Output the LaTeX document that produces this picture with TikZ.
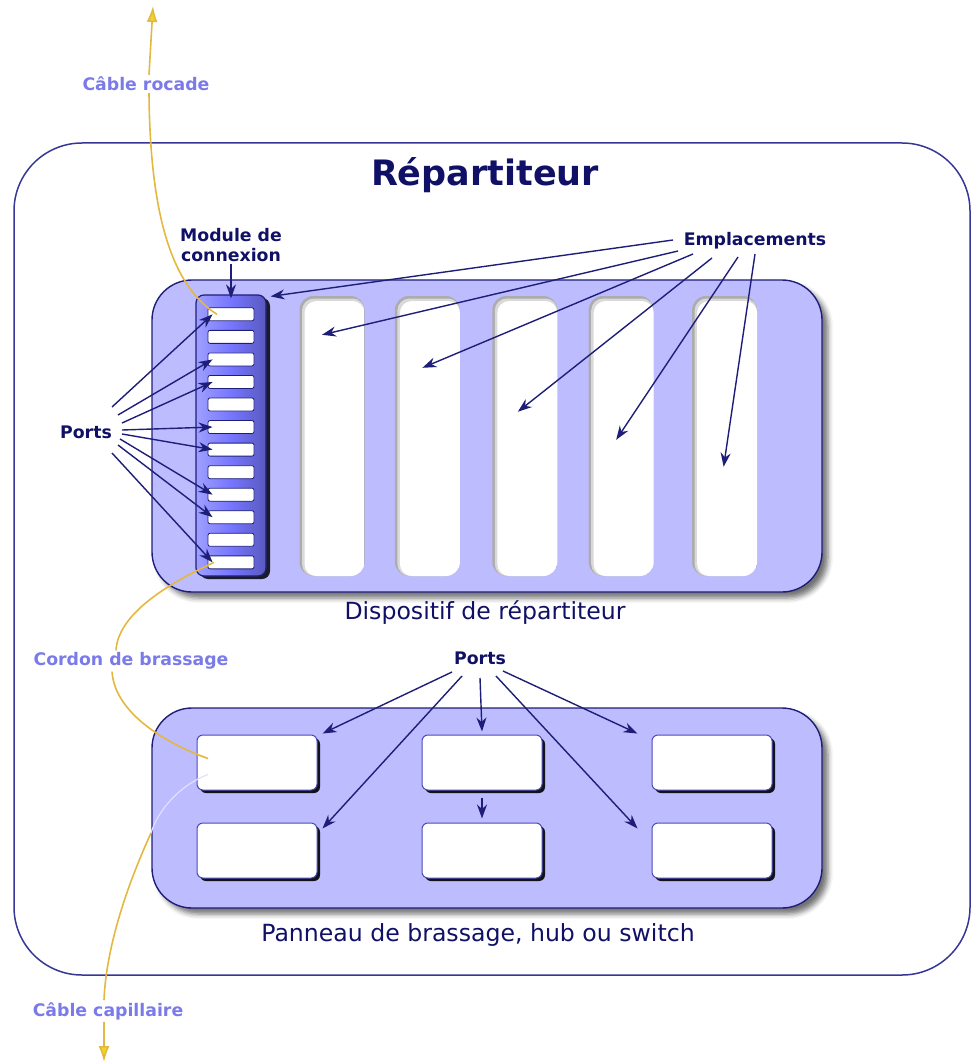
\documentclass[tikz,border=0pt]{standalone}
\usepackage{fontspec}
\setmainfont{DejaVu Sans}
\usepackage{xcolor}
\definecolor{rtext}{RGB}{16, 16, 102}
\definecolor{rline}{RGB}{30, 30, 120}
\definecolor{rframe}{RGB}{54, 54, 150}
\definecolor{rlav}{RGB}{188, 188, 255}
\definecolor{rblue}{RGB}{118, 118, 255}
\definecolor{rcable}{RGB}{228, 184, 64}
\definecolor{rlabel}{RGB}{122, 122, 232}
\usepackage{tikz}
\usetikzlibrary{
  arrows.meta, positioning, calc,
  shadows, shadows.blur
}
\newcommand{\lblfont}{\fontsize{17.3}{20.5}\selectfont\bfseries}
\newcommand{\capfont}{\fontsize{23.6}{27}\selectfont}
\newcommand{\ttlfont}{\fontsize{35}{41}\selectfont\bfseries}
\tikzset{
  outerbox/.style={draw=rframe, line width=1.5pt, rounded corners=68pt,
    minimum width=956pt, minimum height=832pt},
  devbox/.style={draw=rline, fill=rlav, line width=1.4pt, rounded corners=40pt,
    blur shadow={shadow xshift=6pt, shadow yshift=-6pt,
      shadow blur radius=5pt, shadow opacity=55}},
  slotcell/.style={fill=gray!65, rounded corners=14pt, inner sep=0pt,
    minimum width=65pt, minimum height=280pt,
    path picture={
      \fill[gray!30, rounded corners=12pt]
        ([shift={(2.5pt,-2.5pt)}]path picture bounding box.north west)
        rectangle (path picture bounding box.south east);
      \fill[white, rounded corners=12pt]
        ([shift={(5pt,-5pt)}]path picture bounding box.north west)
        rectangle (path picture bounding box.south east);}},
  modbar/.style={draw=rline, line width=1.2pt, rounded corners=8pt,
    left color=rblue!70!white, right color=rblue!75!black, middle color=rblue,
    minimum width=70pt, minimum height=281pt,
    drop shadow={shadow xshift=4pt, shadow yshift=-3pt, fill=black, opacity=0.85}},
  portcell/.style={draw=rline, fill=white, line width=0.8pt, rounded corners=2pt,
    minimum width=46pt, minimum height=13pt, inner sep=0pt},
  jackbox/.style={draw=rblue!50!rline, fill=white, line width=1pt, rounded corners=6pt,
    minimum width=120pt, minimum height=55pt,
    drop shadow={shadow xshift=3pt, shadow yshift=-3pt, fill=black, opacity=0.9}},
  ttl/.style={text=rtext, font=\ttlfont},
  lbl/.style={text=rtext, font=\lblfont, align=center, inner sep=2pt},
  cablbl/.style={text=rlabel, font=\lblfont, inner sep=2pt},
  captext/.style={text=rtext, font=\capfont},
  ptarrow/.style={-{Stealth[length=14pt,width=10pt]}, line width=1.4pt, draw=rline},
  cable/.style={draw=rcable, line width=1.6pt},
  cablearrow/.style={cable, -{Latex[length=16pt,width=11pt,fill=rcable!60!yellow]}},
  fadecable/.style={draw=white!55!rlav, line width=1.2pt}
}

\begin{document}
\begin{tikzpicture}[x=1pt, y=-1pt]
  \useasboundingbox (0,0) rectangle (971,1064);

  \node[outerbox] (frame) at (492,559) {};
  \node[ttl] (title) at (485,175) {Répartiteur};

  % Dispositif de repartiteur
  \node[devbox, minimum width=670pt, minimum height=312pt] (disp) at (487,436) {};
  \node[slotcell] (s1) at (332,436) {};
  \node[slotcell, right=30pt of s1] (s2) {};
  \node[slotcell, right=32pt of s2] (s3) {};
  \node[slotcell, right=31pt of s3] (s4) {};
  \node[slotcell, right=38pt of s4] (s5) {};

  \node[modbar] (mod) at (231,435.5) {};
  \node[portcell, below=13pt of mod.north] (p1) {};
  \node[portcell, below=8.75pt of p1] (p2) {};
  \node[portcell, below=8.75pt of p2] (p3) {};
  \node[portcell, below=8.75pt of p3] (p4) {};
  \node[portcell, below=8.75pt of p4] (p5) {};
  \node[portcell, below=8.75pt of p5] (p6) {};
  \node[portcell, below=8.75pt of p6] (p7) {};
  \node[portcell, below=8.75pt of p7] (p8) {};
  \node[portcell, below=8.75pt of p8] (p9) {};
  \node[portcell, below=8.75pt of p9] (p10) {};
  \node[portcell, below=8.75pt of p10] (p11) {};
  \node[portcell, below=8.75pt of p11] (p12) {};

  \node[captext] (capdisp) at (485,613) {Dispositif de répartiteur};

  % Panneau de brassage
  \node[devbox, minimum width=670pt, minimum height=200pt] (pan) at (487,808) {};
  \node[jackbox] (b1) at (257,762.5) {};
  \node[jackbox, right=104pt of b1] (b2) {};
  \node[jackbox, right=109pt of b2] (b3) {};
  \node[jackbox, below=32pt of b1] (b4) {};
  \node[jackbox, below=32pt of b2] (b5) {};
  \node[jackbox, below=32pt of b3] (b6) {};

  \node[captext] (cappan) at (478,935) {Panneau de brassage, hub ou switch};

  % Labels
  \node[lbl] (lmod) at (231,245) {Module de\\connexion};
  \node[lbl] (lemp) at (755,241) {Emplacements};
  \node[lbl] (lportsa) at (86,432) {Ports};
  \node[lbl] (lportsb) at (480,658) {Ports};
  \node[cablbl] (lrocade) at (146,84) {Câble rocade};
  \node[cablbl] (lcordon) at (131,661) {Cordon de brassage};
  \node[cablbl] (lcapil) at (108,1011) {Câble capillaire};

  % Module and slots
  \draw[ptarrow] (lmod) -- ([yshift=-4pt]mod.north);
  \draw[ptarrow] ([shift={(-82,-1)}]lemp.center) -- ([shift={(4,2)}]mod.north east);
  \draw[ptarrow] ([shift={(-77,10)}]lemp.center) -- ([shift={(-10,39)}]s1.north);
  \draw[ptarrow] ([shift={(-62,13)}]lemp.center) -- ([shift={(-5,72)}]s2.north);
  \draw[ptarrow] ([shift={(-43,17)}]lemp.center) -- ([shift={(-7,116)}]s3.north);
  \draw[ptarrow] ([shift={(-17,16)}]lemp.center) -- ([shift={(-5,144)}]s4.north);
  \draw[ptarrow] ([shift={(0,13)}]lemp.center) -- ([shift={(-1,171)}]s5.north);

  % Ports of the module
  \draw[ptarrow] ([shift={(26,-25)}]lportsa.center) -- ([xshift=5pt]p1.west);
  \draw[ptarrow] ([shift={(32,-17)}]lportsa.center) -- ([xshift=5pt]p3.west);
  \draw[ptarrow] ([shift={(36,-9)}]lportsa.center) -- ([xshift=5pt]p4.west);
  \draw[ptarrow] ([shift={(36,-2)}]lportsa.center) -- ([xshift=5pt]p6.west);
  \draw[ptarrow] ([shift={(36,2)}]lportsa.center) -- ([xshift=5pt]p7.west);
  \draw[ptarrow] ([shift={(34,7)}]lportsa.center) -- ([xshift=5pt]p9.west);
  \draw[ptarrow] ([shift={(32,13)}]lportsa.center) -- ([xshift=5pt]p10.west);
  \draw[ptarrow] ([shift={(26,21)}]lportsa.center) -- ([xshift=5pt]p12.west);

  % Ports of the panel
  \draw[ptarrow] ([shift={(-28,14)}]lportsb.center) -- ([shift={(5,-1)}]b1.north east);
  \draw[ptarrow] ([shift={(-18,18)}]lportsb.center) -- ([shift={(5,6)}]b4.north east);
  \draw[ptarrow] ([shift={(0,20)}]lportsb.center) -- ([shift={(0,-3)}]b2.north);
  \draw[ptarrow] ([shift={(16,18)}]lportsb.center) -- ([shift={(-14,6)}]b6.north west);
  \draw[ptarrow] ([shift={(23,13)}]lportsb.center) -- ([shift={(-14,-1)}]b3.north west);
  \draw[ptarrow] ([shift={(0,7)}]b2.south) -- ([shift={(0,-4)}]b5.north);

  % Cables
  \coordinate (rtop) at (153,6);
  \coordinate (panedge) at (151,833);
  \coordinate (cbot) at (104,1062);
  \draw[cablearrow] ([xshift=3pt]lrocade.north) -- (rtop);
  \draw[cable] ([xshift=3pt]lrocade.south) .. controls (150,210) and (170,285) .. ([xshift=-14pt]p1.center);
  \draw[cable] ([xshift=-17pt]p12.center) .. controls (165,585) and (118,615) .. ([xshift=-15pt]lcordon.north);
  \draw[cable] ([xshift=-19pt]lcordon.south) .. controls (115,715) and (170,745) .. ([shift={(-49,-4)}]b1.center);
  \draw[fadecable] ([shift={(-49,12)}]b1.center) .. controls (180,785) and (158,810) .. (panedge);
  \draw[cable] (panedge) .. controls (125,890) and (106,950) .. ([xshift=-4pt]lcapil.north);
  \draw[cablearrow] ([xshift=-4pt]lcapil.south) -- (cbot);

\end{tikzpicture}
\end{document}
